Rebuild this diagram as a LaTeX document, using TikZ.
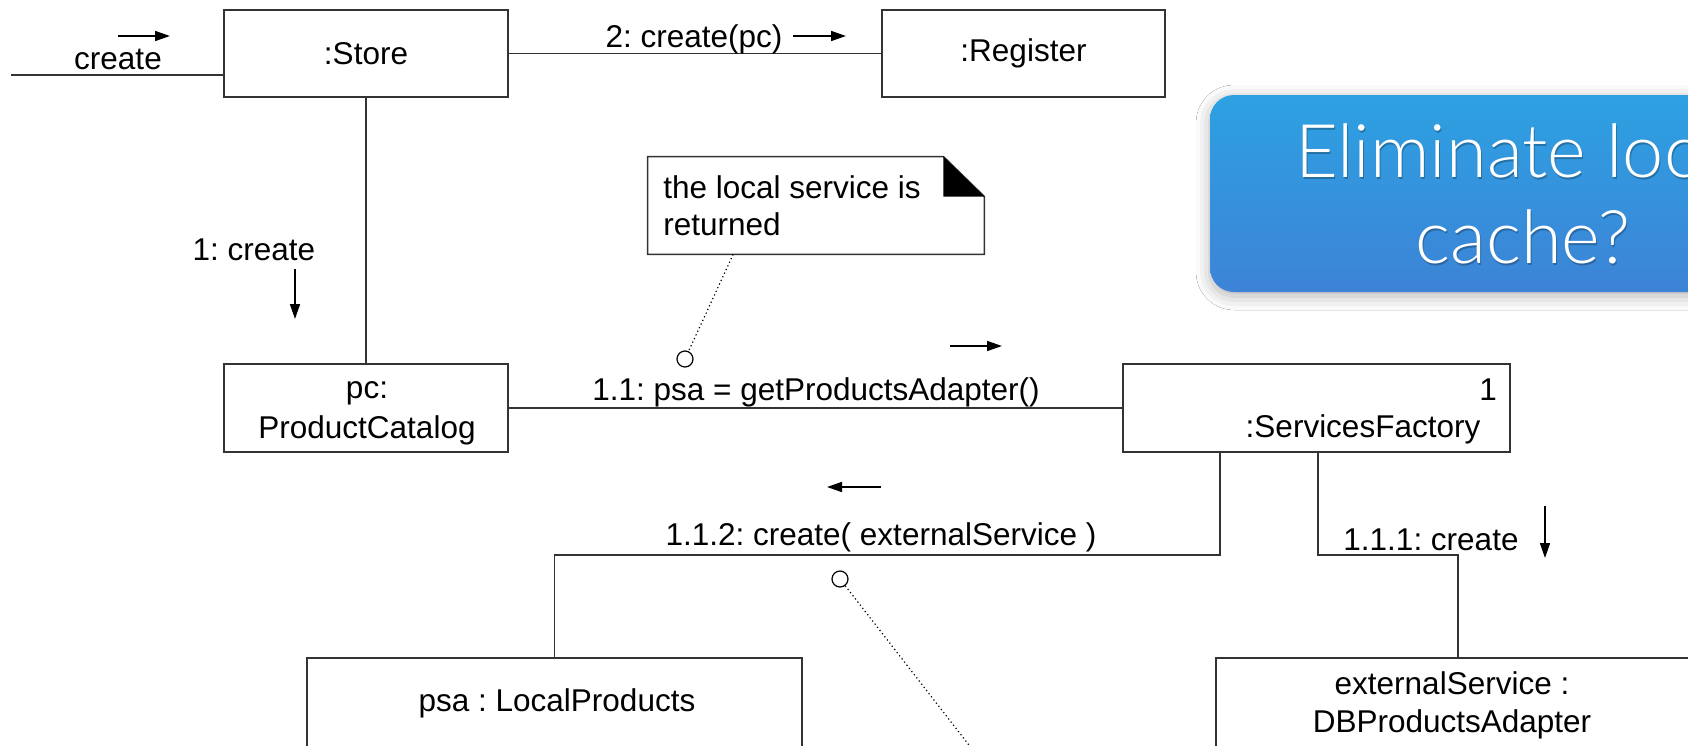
\documentclass[tikz,border=0pt]{standalone}
\usepackage{fontspec}
\setmainfont{Liberation Sans}
\IfFontExistsTF{Lato Light}
  {\newfontfamily\calloutfont{Lato Light}}
  {\IfFontExistsTF{Open Sans Light}
    {\newfontfamily\calloutfont{Open Sans Light}}
    {\newfontfamily\calloutfont{Liberation Sans}}}
\frenchspacing
\usetikzlibrary{arrows.meta,shadows.blur,calc}
\definecolor{calloutTop}{HTML}{2DA1E2}
\definecolor{calloutBottom}{HTML}{3D83D6}
\tikzset{
  obj/.style={draw=black!80, line width=0.8pt, fill=white, inner sep=0pt},
  conn/.style={draw=black!80, line width=0.8pt},
  msg/.style={font=\fontsize{15.75pt}{18.5pt}\selectfont, inner sep=0pt},
  msgarrow/.style={line width=0.8pt, -{Triangle[length=7.5pt,width=5pt]}},
  notelink/.style={line width=0.6pt, dash pattern=on 0.6pt off 1.4pt},
  anchorcirc/.style={circle, draw=black, line width=0.6pt, fill=white, minimum size=8pt, inner sep=0pt},
  callout/.style={rounded corners=12pt, shading=axis, top color=calloutTop, bottom color=calloutBottom,
    blur shadow={shadow xshift=0pt, shadow yshift=-2pt, shadow blur radius=7pt, shadow opacity=30}},
  callouttext/.style={font=\calloutfont\fontsize{37pt}{43pt}\selectfont, inner sep=0pt, anchor=base},
}
\begin{document}
\begin{tikzpicture}[x=0.5pt, y=-0.5pt]
\useasboundingbox (0,0) rectangle (1688,745);
\clip (0,0) rectangle (1688,745);
\fill[white] (0,0) rectangle (1688,745);

% objects
\node[obj, msg, minimum width=142pt, minimum height=43.5pt] (store) at (366,53.5) {:Store};
\node[obj, msg, minimum width=141.5pt, minimum height=43.5pt] (register) at (1023.5,53.5) {:Register};
\node[obj, minimum width=142pt, minimum height=44pt] (pc) at (366,408) {};
\node[msg, align=center, font=\fontsize{15.75pt}{20pt}\selectfont] (pcname) at (367,413) {pc:\\ProductCatalog};
\node[obj, minimum width=193.5pt, minimum height=44pt] (sf) at (1316.5,408) {};
\node[msg] (sfmult) at (1488,390) {1};
\node[msg] (sfname) at (1363,429) {:ServicesFactory};
\node[obj, minimum width=247.5pt, minimum height=61pt] (lp) at (554.5,719) {};
\node[msg] (lpname) at (557,703) {psa : LocalProducts};
\node[obj, minimum width=242pt, minimum height=61pt] (db) at (1458,719) {};
\node[msg, align=center, font=\fontsize{15.75pt}{19pt}\selectfont] (dbname) at (1452,705) {externalService :\\DBProductsAdapter};

% links
\coordinate (entry) at (11,75);
\draw[conn] (entry) -- (entry -| store.west);
\draw[conn] (store) -- (register);
\draw[conn] (store) -- (pc);
\draw[conn] (pc) -- (sf);
\coordinate (j1) at (1220,555);
\coordinate (j2) at (1318,555);
\draw[conn] (sf.south -| j1) -- (j1) -| (lp.north);
\draw[conn] (sf.south -| j2) -- (j2) -| (db.north);

% messages
\node[msg] (mcreate) at (118,59) {create};
\coordinate (a0s) at (118,36); \coordinate (a0e) at (170,36);
\draw[msgarrow] (a0s) -- (a0e);
\node[msg] (m2) at (694,39) {2: create(pc)};
\coordinate (a2s) at (793,36); \coordinate (a2e) at (846,36);
\draw[msgarrow] (a2s) -- (a2e);
\node[msg] (m1) at (254,250) {1: create};
\coordinate (a1s) at (295,269); \coordinate (a1e) at (295,319);
\draw[msgarrow] (a1s) -- (a1e);
\node[msg] (m11) at (816,392) {1.1: psa = getProductsAdapter()};
\coordinate (a11s) at (950,346); \coordinate (a11e) at (1002,346);
\draw[msgarrow] (a11s) -- (a11e);
\node[msg] (m112) at (881,537) {1.1.2: create( externalService )};
\coordinate (a112s) at (881,487); \coordinate (a112e) at (827,487);
\draw[msgarrow] (a112s) -- (a112e);
\node[msg] (m111) at (1431,540) {1.1.1: create};
\coordinate (a111s) at (1545,506); \coordinate (a111e) at (1545,558);
\draw[msgarrow] (a111s) -- (a111e);

% note
\node[minimum width=168pt, minimum height=48.5pt, inner sep=0pt] (note) at (816,205.5) {};
\draw[conn, fill=white] (note.north west) -- ([xshift=-20.5pt]note.north east)
  -- ([yshift=-20pt]note.north east) -- (note.south east) -- (note.south west) -- cycle;
\fill[black] ([xshift=-20.5pt]note.north east) -- ([xshift=-20.5pt,yshift=-20pt]note.north east)
  -- ([yshift=-20pt]note.north east) -- cycle;
\node[msg, align=left, anchor=north west] (notetext) at (663,175) {the local service is\\returned};
\node[anchorcirc] (c1) at (685,359) {};
\draw[notelink] ($(note.south west)!0.254!(note.south east)$) -- (c1);
\node[anchorcirc] (c2) at (840,579) {};
\coordinate (offnote) at (1000,785);
\draw[notelink] (c2) -- (offnote);

% callout
\node[callout, minimum width=313pt, minimum height=98.5pt] (callout) at (1523,193.5) {};
\node[callouttext, text=black, opacity=0.25] at (1524,179.5) {Eliminate local};
\node[callouttext, text=black, opacity=0.25] at (1524,265.5) {cache?};
\node[callouttext, text=white] (cl1) at (1523,177) {Eliminate local};
\node[callouttext, text=white] (cl2) at (1523,263) {cache?};
\end{tikzpicture}
\end{document}
